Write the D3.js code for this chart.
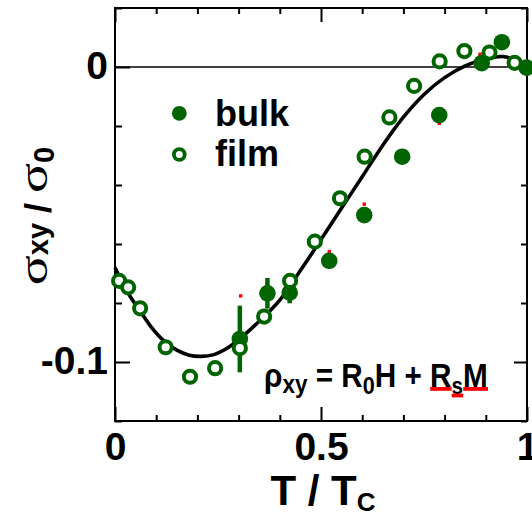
<!DOCTYPE html>
<html>
<head>
<meta charset="utf-8">
<script src="https://cdn.jsdelivr.net/npm/d3@7/dist/d3.min.js"></script>
<style>
  html, body { margin: 0; padding: 0; background: #fff; }
  svg { display: block; }
</style>
</head>
<body>
<svg id="chart" width="532" height="516"></svg>
<script>
// Reduced temperature T/Tc
const filmT = [0.010, 0.032, 0.061, 0.123, 0.182, 0.243, 0.303, 0.362, 0.425, 0.485,
               0.546, 0.606, 0.666, 0.726, 0.788, 0.848, 0.909, 0.970];
// Normalised Hall conductivity, film
const filmS = [-0.0725, -0.0747, -0.0818, -0.0950, -0.1050, -0.1021, -0.0953, -0.0846, -0.0725, -0.0592,
               -0.0445, -0.0304, -0.0171, -0.0064, 0.0019, 0.0054, 0.0049, 0.0014];

const bulkT = [0.303, 0.370, 0.424, 0.520, 0.605, 0.697, 0.787, 0.890, 0.939, 0.999];
const bulkS = [-0.0922, -0.0767, -0.0765, -0.0657, -0.0502, -0.0304, -0.0163, 0.0013, 0.0084, -0.0002];
const bulkErr = [0.0113, 0.0052, 0.0036, 0, 0, 0, 0, 0, 0, 0];

// Red markers from the second bulk data set
const redT = [0.305, 0.520, 0.605, 0.787, 0.886];
const redS = [-0.0776, -0.0626, -0.0465, -0.0191, 0.0043];

// Model curve
const fitT = [0, 0.02, 0.04, 0.06, 0.09, 0.12, 0.15, 0.18, 0.21, 0.24, 0.27, 0.30, 0.35, 0.40, 0.45,
              0.50, 0.55, 0.60, 0.65, 0.70, 0.75, 0.80, 0.85, 0.90, 0.93, 0.95, 0.975, 1.0];
const fitS = [-0.0680, -0.0738, -0.0785, -0.0825, -0.0885, -0.0930, -0.0960, -0.0977, -0.0981, -0.0975,
              -0.0955, -0.0925, -0.0862, -0.0790, -0.0690, -0.0585, -0.0478, -0.0372, -0.0265, -0.0170,
              -0.0093, -0.0036, 0.0004, 0.0027, 0.0035, 0.0034, 0.0015, -0.0004];

const xMajorTicks = [0, 0.5, 1];
const xTickLabels = ["0", "0.5", "1"];
const xMinorTicks = [0.1, 0.2, 0.3, 0.4, 0.6, 0.7, 0.8, 0.9];
const yMajorTicks = [0, -0.1];
const yTickLabels = ["0", "-0.1"];
const yMinorTicks = [0.02, -0.02, -0.04, -0.06, -0.08, -0.12];

const GREEN = "#006400";
const SANS = "'Liberation Sans', Arial, Helvetica, sans-serif";
const SERIF = "'Liberation Serif', 'Times New Roman', serif";

const svg = d3.select("#chart");
const plotL = 115, plotR = 527, plotT = 8, plotB = 421;

const x = d3.scaleLinear().domain([0, 1]).range([plotL, plotR]);
const y = d3.scaleLinear().domain([-0.12, 0.02]).range([plotB, plotT]);

// Axes: inward ticks on all four sides
function styleAxis(g) {
  g.select(".domain").remove();
  g.selectAll(".tick line").attr("stroke", "#000").attr("stroke-width", 2);
}
svg.append("g").attr("transform", `translate(0,${plotB})`)
  .call(d3.axisBottom(x).tickValues(xMinorTicks).tickSize(-6).tickFormat("")).call(styleAxis);
svg.append("g").attr("transform", `translate(0,${plotT})`)
  .call(d3.axisTop(x).tickValues(xMinorTicks).tickSize(-6).tickFormat("")).call(styleAxis);
const xAx = svg.append("g").attr("transform", `translate(0,${plotB})`)
  .call(d3.axisBottom(x).tickValues(xMajorTicks).tickSize(-14)
        .tickFormat((d, i) => xTickLabels[i])).call(styleAxis);
xAx.selectAll(".tick text").attr("y", 39).attr("dy", 0)
  .attr("font-family", SANS).attr("font-weight", "bold").attr("font-size", 39).attr("fill", "#000");
svg.append("g").attr("transform", `translate(0,${plotT})`)
  .call(d3.axisTop(x).tickValues(xMajorTicks).tickSize(-14).tickFormat("")).call(styleAxis);

svg.append("g").attr("transform", `translate(${plotL},0)`)
  .call(d3.axisLeft(y).tickValues(yMinorTicks).tickSize(-7).tickFormat("")).call(styleAxis);
svg.append("g").attr("transform", `translate(${plotR},0)`)
  .call(d3.axisRight(y).tickValues(yMinorTicks).tickSize(-6).tickFormat("")).call(styleAxis);
const yAx = svg.append("g").attr("transform", `translate(${plotL},0)`)
  .call(d3.axisLeft(y).tickValues(yMajorTicks).tickSize(-15)
        .tickFormat((d, i) => yTickLabels[i])).call(styleAxis);
yAx.selectAll(".tick text").attr("x", -7).attr("dy", 11)
  .attr("font-family", SANS).attr("font-weight", "bold").attr("font-size", 39).attr("fill", "#000");
svg.append("g").attr("transform", `translate(${plotR},0)`)
  .call(d3.axisRight(y).tickValues(yMajorTicks).tickSize(-13).tickFormat("")).call(styleAxis);

// Zero reference line
svg.append("line")
  .attr("x1", plotL).attr("x2", plotR).attr("y1", y(0)).attr("y2", y(0))
  .attr("stroke", "#000").attr("stroke-width", 1.6);

// Frame
svg.append("rect")
  .attr("x", plotL).attr("y", plotT).attr("width", plotR - plotL).attr("height", plotB - plotT)
  .attr("fill", "none").attr("stroke", "#000").attr("stroke-width", 2);

// Model curve
const fit = fitT.map((t, i) => [t, fitS[i]]);
svg.append("path")
  .datum(fit)
  .attr("fill", "none").attr("stroke", "#000").attr("stroke-width", 3.6)
  .attr("stroke-linejoin", "round")
  .attr("d", d3.line().x(d => x(d[0])).y(d => y(d[1])).curve(d3.curveCatmullRom));

// Bulk error bars
const bulk = bulkT.map((t, i) => ({ t, s: bulkS[i], e: bulkErr[i] }));
svg.append("g").selectAll("line")
  .data(bulk.filter(d => d.e > 0))
  .join("line")
  .attr("x1", d => x(d.t)).attr("x2", d => x(d.t))
  .attr("y1", d => y(d.s + d.e)).attr("y2", d => y(d.s - d.e))
  .attr("stroke", GREEN).attr("stroke-width", 4.5);

// Red markers
svg.append("g").selectAll("rect")
  .data(redT.map((t, i) => ({ t, s: redS[i] })))
  .join("rect")
  .attr("x", d => x(d.t) - 1.7).attr("y", d => y(d.s) - 1.7)
  .attr("width", 3.4).attr("height", 3.4)
  .attr("fill", "#ff0000");

// Bulk points
svg.append("g").selectAll("circle")
  .data(bulk)
  .join("circle")
  .attr("cx", d => x(d.t)).attr("cy", d => y(d.s)).attr("r", 8.3)
  .attr("fill", GREEN);

// Film points
svg.append("g").selectAll("circle")
  .data(filmT.map((t, i) => ({ t, s: filmS[i] })))
  .join("circle")
  .attr("cx", d => x(d.t)).attr("cy", d => y(d.s)).attr("r", 6.1)
  .attr("fill", "#fff").attr("stroke", GREEN).attr("stroke-width", 4);

// Legend
const legend = svg.append("g");
legend.append("circle").attr("cx", 179.3).attr("cy", 113.3).attr("r", 7.4).attr("fill", GREEN);
legend.append("circle").attr("cx", 179.3).attr("cy", 154.5).attr("r", 5.4)
  .attr("fill", "#fff").attr("stroke", GREEN).attr("stroke-width", 3.8);
legend.append("text").attr("x", 215).attr("y", 126).text("bulk")
  .attr("font-family", SANS).attr("font-weight", "bold").attr("font-size", 36);
legend.append("text").attr("x", 215).attr("y", 166).text("film")
  .attr("font-family", SANS).attr("font-weight", "bold").attr("font-size", 36);

// X title: T / T_C
const xt = svg.append("text")
  .attr("x", 323).attr("y", 505).attr("text-anchor", "middle")
  .attr("font-family", SANS).attr("font-weight", "bold").attr("font-size", 42);
xt.append("tspan").text("T\u00A0/\u00A0T");
xt.append("tspan").text("C").attr("font-size", 26).attr("dy", 6);

// Y title: σ_xy / σ_0, rotated
(function () {
  const outer = svg.append("g").attr("transform", "translate(47,216) rotate(-90)");
  const inner = outer.append("g");
  const parts = [
    { t: "\u03C3", fam: SERIF, size: 40, weight: "normal", dy: 0, w: 30 },
    { t: "xy", fam: SANS, size: 29, weight: "bold", dy: 1 },
    { t: "\u00A0/\u00A0", fam: SANS, size: 36, weight: "bold", dy: 4 },
    { t: "\u03C3", fam: SERIF, size: 40, weight: "normal", dy: 0, w: 30 },
    { t: "0", fam: SANS, size: 29, weight: "bold", dy: 7 }
  ];
  let pos = 0;
  parts.forEach(p => {
    const el = inner.append("text").text(p.t)
      .attr("font-family", p.fam).attr("font-size", p.size).attr("font-weight", p.weight);
    const len = el.node().getComputedTextLength();
    if (p.w) {
      el.attr("transform", `translate(${pos},${p.dy}) scale(${p.w / len},1)`);
      pos += p.w;
    } else {
      el.attr("transform", `translate(${pos},${p.dy})`);
      pos += len;
    }
  });
  inner.attr("transform", `translate(${-pos / 2},0)`);
})();

// Formula: ρ_xy = R_0 H + R_s M, with R_s M underlined in red
(function () {
  const g = svg.append("g");
  const txt = g.append("text").attr("x", 0).attr("y", 0)
    .attr("font-family", SANS).attr("font-weight", "bold").attr("font-size", 33);
  txt.append("tspan").text("\u03C1");
  txt.append("tspan").text("xy").attr("font-size", 25).attr("dy", 6);
  txt.append("tspan").text("\u00A0=\u00A0R").attr("dy", -6);
  txt.append("tspan").text("0").attr("font-size", 24).attr("dy", 6.5);
  txt.append("tspan").text("H\u00A0+\u00A0R").attr("dy", -6.5);
  txt.append("tspan").text("s").attr("font-size", 23).attr("dy", 6.6);
  txt.append("tspan").text("M").attr("dy", -6.6);
  const node = txt.node();
  const total = node.getComputedTextLength();
  const sx = 224 / total;
  const under = [{ i: 12, y: 0 }, { i: 13, y: 6.6 }, { i: 14, y: 0 }];
  under.forEach(u => {
    const ext = node.getExtentOfChar(u.i);
    g.append("rect").attr("x", ext.x).attr("y", u.y)
      .attr("width", ext.width).attr("height", 3.8).attr("fill", "#ff0000");
  });
  g.attr("transform", `translate(264,387) scale(${sx},1)`);
})();
</script>
</body>
</html>
